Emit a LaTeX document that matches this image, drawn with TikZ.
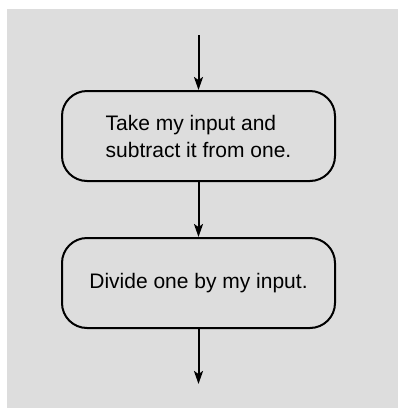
\documentclass[tikz,border=0pt]{standalone}
\usepackage{fontspec}
\setmainfont{Liberation Sans}
\usetikzlibrary{positioning,arrows.meta}
\definecolor{panelgray}{HTML}{DDDDDD}

\begin{document}
\begin{tikzpicture}[x=1pt, y=-1pt, line width=2pt, node distance=55pt,
	>={Stealth[length=13pt,width=9pt,inset=3pt]}]
	
	\useasboundingbox (0,0) rectangle (398,408);
	\fill[panelgray] (7,9) rectangle (398,408);
	
	\begin{scope}[every node/.style={draw,rectangle,rounded corners=25pt,minimum width=273pt,minimum height=90pt,align=left,font=\fontsize{21}{27}\selectfont}]
		\node (subtract) at (198.5,136) {Take my input and\\subtract it from one.};
		\node (divide) [below=of subtract] {Divide one by my input.};
	\end{scope}
	
	\coordinate[above=of subtract] (input);
	\coordinate[below=of divide] (output);
	
	\draw[->] (input) -- (subtract);
	\draw[->] (subtract) -- (divide);
	\draw[->] (divide) -- (output);
	
\end{tikzpicture}
\end{document}
